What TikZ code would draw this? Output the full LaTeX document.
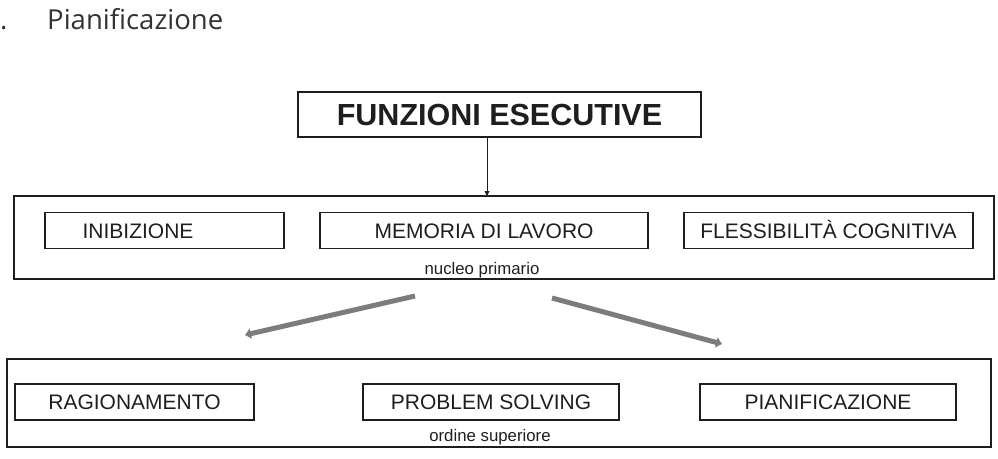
\documentclass[tikz,border=0pt]{standalone}
\usepackage{fontspec}
\setmainfont{Liberation Sans}
\newfontfamily\bodyfont{Open Sans}
\usetikzlibrary{arrows.meta}
\definecolor{ink}{HTML}{1E1E1E}
\definecolor{arrowgray}{HTML}{7C7C7C}
\begin{document}
\begin{tikzpicture}[x=1pt,y=-1pt,
  outerbox/.style={draw=ink,line width=2.6pt,minimum height=#1,inner sep=0pt},
  innerbox/.style={draw=ink,line width=1.2pt,minimum height=35.5pt,inner sep=0pt,
    font=\fontsize{21}{25}\selectfont,text=ink,text height=15pt,text depth=0pt},
  plainlabel/.style={font=\fontsize{21}{25}\selectfont,text=ink,inner sep=0pt,text height=15pt,text depth=0pt},
  smalllabel/.style={font=\fontsize{16.8}{19}\selectfont,text=ink,inner sep=0pt,anchor=base},
  thickarrow/.style={draw=arrowgray,line width=5pt,-{Triangle[width=10pt,length=6pt]}},
  thinarrow/.style={draw=ink,line width=0.9pt,-{Triangle[width=5pt,length=5pt]}}
]
\useasboundingbox (0,0) rectangle (998,458);

% fragment of preceding text
\node[font=\bodyfont\fontsize{27.5}{32}\selectfont,text=black!80,anchor=base west,inner sep=0pt] (dot) at (0,29) {.};
\node[font=\bodyfont\fontsize{27.5}{32}\selectfont,text=black!80,anchor=base west,inner sep=0pt] (pian) at (47,29) {Pianificazione};

% top box
\node[draw=ink,line width=1.4pt,minimum width=403pt,minimum height=45pt,inner sep=0pt,
  font=\bfseries\fontsize{30.5}{36}\selectfont,text=ink,text height=22pt,text depth=0pt] (fe) at (499.5,114.5) {FUNZIONI ESECUTIVE};

% middle group
\node[outerbox=83pt,minimum width=980pt] (core) at (504,237.5) {};
\node[innerbox,minimum width=239pt] (inib) at (164.5,230.5) {};
\node[plainlabel] (inibt) at (138,230.5) {INIBIZIONE};
\node[innerbox,minimum width=328pt] (mem) at (484,230.5) {MEMORIA DI LAVORO};
\node[innerbox,minimum width=289pt] (fles) at (828.5,230.5) {FLESSIBILITÀ COGNITIVA};
\node[smalllabel] (nucleo) at (482,274) {nucleo primario};

\coordinate (fetop) at (fe.south -| 487,0);
\coordinate (coretop) at (487,196);
\draw[thinarrow] (fetop) -- (coretop);

% gray arrows
\coordinate (la) at (415,296);
\coordinate (lb) at (245,335);
\coordinate (ra) at (552,298);
\coordinate (rb) at (722,344);
\draw[thickarrow] (la) -- (lb);
\draw[thickarrow] (ra) -- (rb);

% bottom group
\node[outerbox=88pt,minimum width=984pt] (higher) at (499,403) {};
\node[innerbox,minimum width=239pt,minimum height=36pt] (rag) at (134.5,402) {RAGIONAMENTO};
\node[innerbox,minimum width=256pt,minimum height=36pt] (prob) at (491,402) {PROBLEM SOLVING};
\node[innerbox,minimum width=256pt,minimum height=36pt] (plan) at (828,402) {PIANIFICAZIONE};
\node[smalllabel] (ordine) at (490,441) {ordine superiore};
\end{tikzpicture}
\end{document}
